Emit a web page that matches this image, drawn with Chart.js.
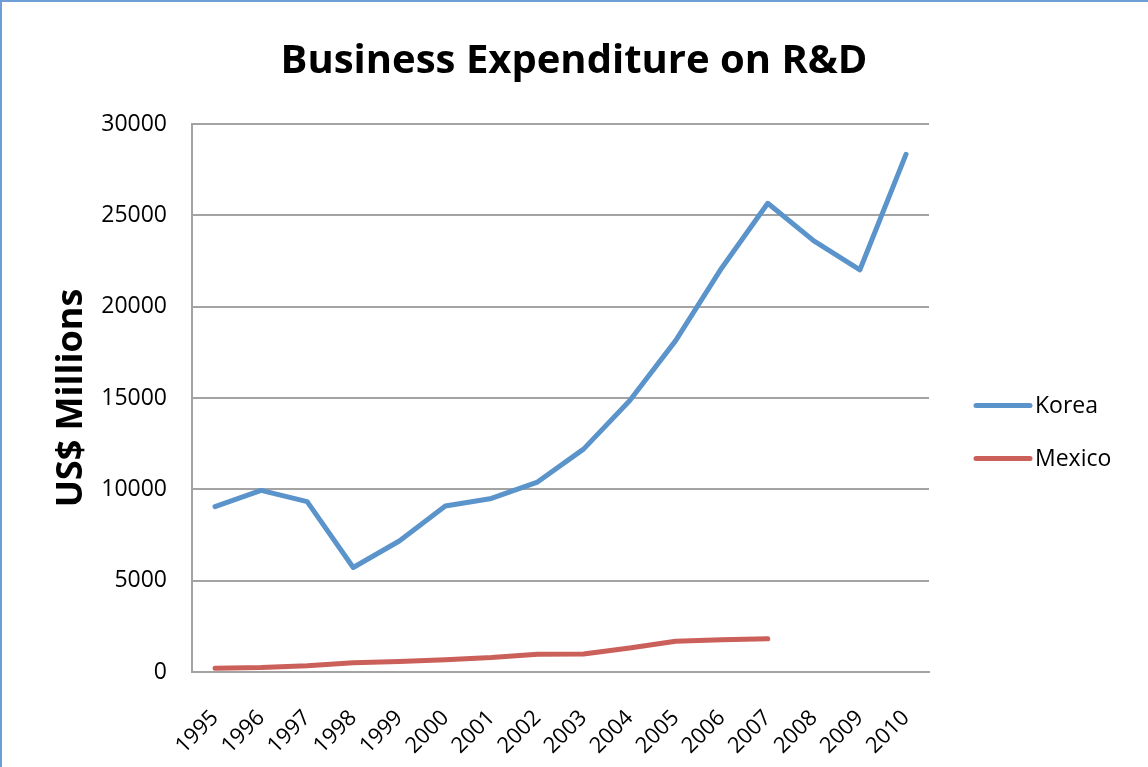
<!DOCTYPE html>
<html>
<head>
<meta charset="utf-8">
<script src="https://cdn.jsdelivr.net/npm/chart.js@4/dist/chart.umd.min.js"></script>
<style>
  html, body { margin: 0; padding: 0; background: #ffffff; }
  #wrap { position: relative; width: 1148px; height: 767px; }
</style>
</head>
<body>
<div id="wrap"><canvas id="c" width="1148" height="767"></canvas></div>
<script>
const years = ['1995','1996','1997','1998','1999','2000','2001','2002','2003','2004','2005','2006','2007','2008','2009','2010'];
const korea = [9050, 9940, 9330, 5720, 7170, 9090, 9500, 10400, 12200, 14850, 18140, 22120, 25660, 23600, 22020, 28340];
const mexico = [200, 240, 340, 500, 570, 670, 790, 970, 990, 1310, 1680, 1760, 1820, null, null, null];
const seriesNames = ['Korea', 'Mexico'];
const seriesColors = ['#5b93cb', '#cb5f5a'];
const yTicks = [0, 5000, 10000, 15000, 20000, 25000, 30000];
const chartTitle = 'Business Expenditure on R&D';
const yTitle = 'US$ Millions';

const FONT = '"Open Sans", "Liberation Sans", sans-serif';

const frame = {
  id: 'frame',
  beforeDraw(chart) {
    const ctx = chart.ctx;
    ctx.save();
    ctx.fillStyle = '#ffffff';
    ctx.fillRect(0, 0, chart.width, chart.height);
    ctx.strokeStyle = '#6d9fd6';
    ctx.lineWidth = 2;
    ctx.strokeRect(1, 1, chart.width + 10, chart.height + 10);
    ctx.restore();
  }
};

const sideLegend = {
  id: 'sideLegend',
  afterDraw(chart) {
    const ctx = chart.ctx;
    const area = chart.chartArea;
    const x0 = area.right + 47;
    const yc = (area.top + area.bottom) / 2 + 34;
    const gap = 53;
    ctx.save();
    chart.data.datasets.forEach((ds, i) => {
      const y = yc - gap / 2 + i * gap;
      ctx.strokeStyle = ds.borderColor;
      ctx.lineWidth = 5;
      ctx.lineCap = 'round';
      ctx.beginPath();
      ctx.moveTo(x0, y);
      ctx.lineTo(x0 + 54, y);
      ctx.stroke();
      ctx.fillStyle = '#000000';
      ctx.font = '23px ' + FONT;
      ctx.textBaseline = 'middle';
      ctx.textAlign = 'left';
      ctx.fillText(ds.label, x0 + 59, y + 1);
    });
    ctx.restore();
  }
};

new Chart(document.getElementById('c'), {
  type: 'line',
  data: {
    labels: years,
    datasets: [
      { label: seriesNames[0], data: korea, borderColor: seriesColors[0], backgroundColor: seriesColors[0] },
      { label: seriesNames[1], data: mexico, borderColor: seriesColors[1], backgroundColor: seriesColors[1] }
    ]
  },
  options: {
    responsive: false,
    animation: false,
    layout: { padding: 0 },
    elements: {
      line: { borderWidth: 5, tension: 0, borderCapStyle: 'round', borderJoinStyle: 'round', fill: false },
      point: { radius: 0, hoverRadius: 0 }
    },
    plugins: {
      legend: { display: false },
      tooltip: { enabled: false },
      title: {
        display: true,
        text: chartTitle,
        color: '#000000',
        font: { family: FONT, size: 40, weight: 'bold', lineHeight: 1.2 },
        padding: { top: 38, bottom: 38 }
      }
    },
    scales: {
      x: {
        offset: true,
        grid: { display: false, drawTicks: false },
        border: { display: true, color: '#a3a3a3', width: 2 },
        ticks: {
          color: '#000000',
          font: { family: FONT, size: 22 },
          maxRotation: 45, minRotation: 45,
          autoSkip: false,
          padding: 33
        },
        afterFit(scale) { scale.height = 95; }
      },
      y: {
        min: 0, max: 30000,
        afterBuildTicks(scale) { scale.ticks = yTicks.map(v => ({ value: v })); },
        grid: { color: '#a3a3a3', lineWidth: 2, drawTicks: false },
        border: { display: true, color: '#a3a3a3', width: 2 },
        ticks: {
          color: '#000000',
          font: { family: FONT, size: 23 },
          padding: 25,
          callback: v => String(v)
        },
        title: {
          display: true,
          text: yTitle,
          color: '#000000',
          font: { family: FONT, size: 36, weight: 'bold', lineHeight: 1.2 },
          padding: { top: 50, bottom: 0 }
        },
        afterFit(scale) { scale.width = 192; }
      },
      legendSpace: {
        type: 'linear',
        position: 'right',
        display: true,
        grid: { display: false, drawTicks: false },
        border: { display: false },
        ticks: { display: false },
        afterFit(scale) { scale.width = 219; }
      }
    }
  },
  plugins: [frame, sideLegend]
});
</script>
</body>
</html>
